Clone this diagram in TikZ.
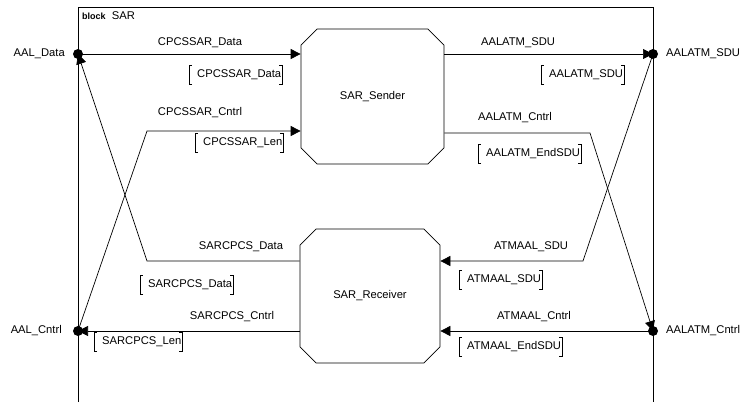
\documentclass[tikz,border=0pt]{standalone}
\usepackage{fontspec}
\setmainfont{Liberation Sans}
\usetikzlibrary{shapes.misc,arrows.meta}
\begin{document}
\begin{tikzpicture}[x=1pt,y=-1pt,
  every node/.style={font=\fontsize{11.2}{13}\selectfont},
  sig/.style={line width=0.7pt,-{Triangle[length=10pt,width=10pt]}},
  port/.style={circle,fill,inner sep=0pt,minimum size=10pt},
  lbl/.style={inner sep=0pt},
  sl/.style={inner sep=0pt,anchor=west}]
\useasboundingbox (0,0) rectangle (747,402);
% frame
\draw[line width=0.8pt] (78,402) -- (78,7) -- (653,7) -- (653,402);
\node[lbl,anchor=west] (blk) at (82,16) {{\fontsize{9}{10}\selectfont\bfseries block}\ \ SAR};
% processes
\node[draw,line width=0.7pt,chamfered rectangle,chamfered rectangle xsep=11pt,chamfered rectangle ysep=11pt,inner sep=0pt,minimum width=143pt,minimum height=135pt] (snd) at (372.5,96.5) {SAR\_Sender};
\node[draw,line width=0.7pt,chamfered rectangle,chamfered rectangle xsep=11pt,chamfered rectangle ysep=11pt,inner sep=0pt,minimum width=140pt,minimum height=134pt] (rcv) at (370,296) {SAR\_Receiver};
% ports
\coordinate (aald) at (78,54);
\coordinate (aalc) at (78,331);
\coordinate (atms) at (653,54);
\coordinate (atmc) at (653,331);
\coordinate (b1) at (147,131);
\coordinate (b2) at (147,261);
\coordinate (b3) at (590,133);
\coordinate (b4) at (583,261);
% connectors
\draw[sig] (aald) -- (aald -| snd.west);
\draw[sig] (aalc) -- (b1) -- (b1 -| snd.west);
\draw[sig] (snd.east |- aald) -- (atms);
\draw[sig] (snd.east |- b3) -- (b3) -- (atmc);
\draw[sig] (rcv.west |- b2) -- (b2) -- (aald);
\draw[sig] (rcv.west |- aalc) -- (aalc);
\draw[sig] (atms) -- (b4) -- (b4 -| rcv.east);
\draw[sig] (atmc) -- (atmc -| rcv.east);
% port dots
\node[port] (paald) at (aald) {};
\node[port] (paalc) at (aalc) {};
\node[port] (patms) at (atms) {};
\node[port] (patmc) at (atmc) {};
\node[lbl,anchor=east] (laald) at (65,54) {AAL\_Data};
\node[lbl,anchor=east] (laalc) at (62,331) {AAL\_Cntrl};
\node[lbl,anchor=west] (latms) at (666,54) {AALATM\_SDU};
\node[lbl,anchor=west] (latmc) at (666,331) {AALATM\_Cntrl};
% signal route names
\node[lbl] (n1) at (200,43) {CPCSSAR\_Data};
\node[lbl] (n2) at (200,113) {CPCSSAR\_Cntrl};
\node[lbl] (n3) at (518,43) {AALATM\_SDU};
\node[lbl] (n4) at (515,118) {AALATM\_Cntrl};
\node[lbl] (n5) at (241,247) {SARCPCS\_Data};
\node[lbl] (n6) at (232,317) {SARCPCS\_Cntrl};
\node[lbl] (n7) at (531,247) {ATMAAL\_SDU};
\node[lbl] (n8) at (534,317) {ATMAAL\_Cntrl};
% signal lists
\newcommand\sglist[3]{%
  \node[sl] (#1) at (#2) {#3};
  \draw[line width=0.6pt] ([xshift=-5pt,yshift=-9.5pt]#1.west) -- ([xshift=-8pt,yshift=-9.5pt]#1.west) -- ([xshift=-8pt,yshift=9.5pt]#1.west) -- ([xshift=-5pt,yshift=9.5pt]#1.west);
  \draw[line width=0.6pt] ([xshift=-2pt,yshift=-9.5pt]#1.east) -- ([xshift=1pt,yshift=-9.5pt]#1.east) -- ([xshift=1pt,yshift=9.5pt]#1.east) -- ([xshift=-2pt,yshift=9.5pt]#1.east);}
\sglist{s1}{197,75}{CPCSSAR\_Data}
\sglist{s2}{203,143}{CPCSSAR\_Len}
\sglist{s3}{549,75}{AALATM\_SDU}
\sglist{s4}{486,154}{AALATM\_EndSDU}
\sglist{s5}{148,285}{SARCPCS\_Data}
\sglist{s6}{102,342}{SARCPCS\_Len}
\sglist{s7}{467,280}{ATMAAL\_SDU}
\sglist{s8}{467,347}{ATMAAL\_EndSDU}
\end{tikzpicture}
\end{document}
